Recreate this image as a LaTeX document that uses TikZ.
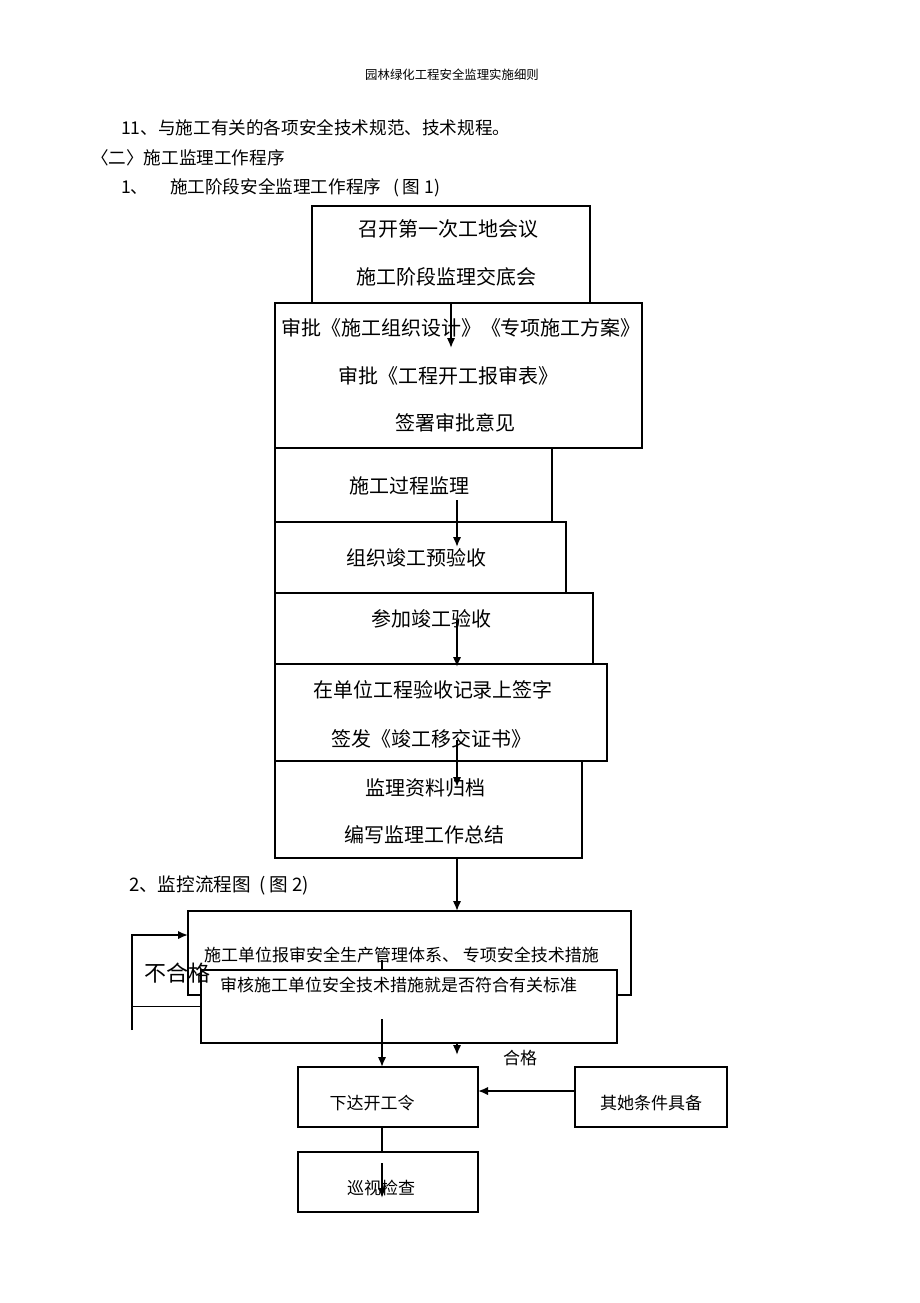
\documentclass[tikz,border=0pt]{standalone}
\usepackage{fontspec}
\setmainfont{Noto Sans CJK SC}
\usetikzlibrary{arrows.meta}

\begin{document}
\begin{tikzpicture}[
    x=0.5pt, y=-0.5pt,
    box/.style={draw, line width=0.6pt, fill=white, inner sep=0pt, outer sep=0pt},
    big/.style={font=\fontsize{10}{12}\selectfont},
    small/.style={font=\fontsize{8.5}{10}\selectfont},
    head/.style={font=\fontsize{8.8}{10}\selectfont, anchor=west},
    arr/.style={line width=0.9pt, -{Latex[length=5pt,width=4.2pt]}},
    ln/.style={line width=0.9pt}
]
    \useasboundingbox (0,0) rectangle (920,1303);

    % headings
    \node [font=\fontsize{6.2}{7}\selectfont] (title) at (452,75) {园林绿化工程安全监理实施细则};
    \node [head] (h1) at (114,128) {11、与施工有关的各项安全技术规范、技术规程。};
    \node [head] (h2) at (84,158) {〈二〉施工监理工作程序};
    \node [head] (h3n) at (114,188) {1、};
    \node [head] (h3) at (163,188) {施工阶段安全监理工作程序\ \ \ ( 图 1)};
    \node [head, font=\fontsize{9.3}{11}\selectfont] (h4) at (122,885) {2、监控流程图\ \ ( 图 2)};

    % figure 1
    \node [box, minimum width=139pt, minimum height=48.5pt] (b1) at (451,254.5) {};
    \node [box, minimum width=183.5pt, minimum height=72.5pt] (b2) at (458.5,375.5) {};
    \node [box, minimum width=138.5pt, minimum height=37pt] (b3) at (413.5,485) {};
    \node [box, minimum width=145.5pt, minimum height=35.5pt] (b4) at (420.5,557.5) {};
    \node [box, minimum width=159pt, minimum height=35.5pt] (b5) at (434,628.5) {};
    \node [box, minimum width=166pt, minimum height=48.5pt] (b6) at (441,712.5) {};
    \node [box, minimum width=153.5pt, minimum height=48.5pt] (b7) at (428.5,809.5) {};

    \node [big] (t1a) at (448,229) {召开第一次工地会议};
    \node [big] (t1b) at (446,277) {施工阶段监理交底会};
    \node [big] (t2a) at (461,328) {审批《施工组织设计》《专项施工方案》};
    \node [big] (t2b) at (448,376) {审批《工程开工报审表》};
    \node [big] (t2c) at (455,423) {签署审批意见};
    \node [big] (t3) at (409,486) {施工过程监理};
    \node [big] (t4) at (416,558) {组织竣工预验收};
    \node [big] (t5) at (431,619) {参加竣工验收};
    \node [big] (t6a) at (433,690) {在单位工程验收记录上签字};
    \node [big] (t6b) at (431,739) {签发《竣工移交证书》};
    \node [big] (t7a) at (425,788) {监理资料归档};
    \node [big] (t7b) at (424,835) {编写监理工作总结};

    \coordinate (k) at (457,0);
    \coordinate (c1) at (451,348);
    \coordinate (c2a) at (457,500);
    \coordinate (c2b) at (457,547);
    \coordinate (c3a) at (457,620);
    \coordinate (c3b) at (457,667);
    \coordinate (c4a) at (457,740);
    \coordinate (c4b) at (457,787);
    \draw [arr] (b1.south) -- (c1);
    \draw [arr] (c2a) -- (c2b);
    \draw [arr] (c3a) -- (c3b);
    \draw [arr] (c4a) -- (c4b);

    % figure 2
    \node [box, minimum width=221.5pt, minimum height=42pt] (b8) at (409.5,953) {};
    \node [box, minimum width=208pt, minimum height=36.5pt] (b9) at (409,1006.5) {};
    \node [box, minimum width=90pt, minimum height=30pt] (b10) at (388,1097) {};
    \node [box, minimum width=76pt, minimum height=30pt] (b11) at (651,1097) {};
    \node [box, minimum width=90pt, minimum height=30pt] (b12) at (388,1182) {};

    \node [small, anchor=west] (t8) at (197,955) {施工单位报审安全生产管理体系、 专项安全技术措施};
    \node [small, anchor=west] (t9) at (213,985) {审核施工单位安全技术措施就是否符合有关标准};
    \node [small] (t10) at (372,1103) {下达开工令};
    \node [small] (t11) at (651,1103) {其她条件具备};
    \node [small] (t12) at (381,1188) {巡视检查};
    \node [small] (ok) at (520,1058) {合格};
    \node [font=\fontsize{11}{13}\selectfont] (nok) at (177,973) {不合格};

    \draw [arr] (b7.south -| k) -- (b8.north -| k);

    \coordinate (lp) at (132,1006.5);
    \coordinate (lt) at (132,1030);
    \coordinate (lc) at (132,935);
    \draw [ln] (b9.west) -- (lp);
    \draw [arr] (lt) -- (lc) -- (lc -| b8.west);

    \coordinate (m) at (382,0);
    \coordinate (m1) at (382,960);
    \coordinate (m2) at (382,1019);
    \coordinate (m3) at (382,1163);
    \coordinate (m4) at (382,1198);
    \coordinate (q) at (457,1055);
    \coordinate (r) at (0,1091);
    \draw [ln] (m1) -- (b9.north -| m);
    \draw [arr] (m2) -- (b10.north -| m);
    \draw [arr] (b9.south -| q) -- (q);
    \draw [arr] (b11.west |- r) -- (b10.east |- r);
    \draw [ln] (b10.south -| m) -- (b12.north -| m);
    \draw [arr] (m3) -- (m4);
\end{tikzpicture}
\end{document}
